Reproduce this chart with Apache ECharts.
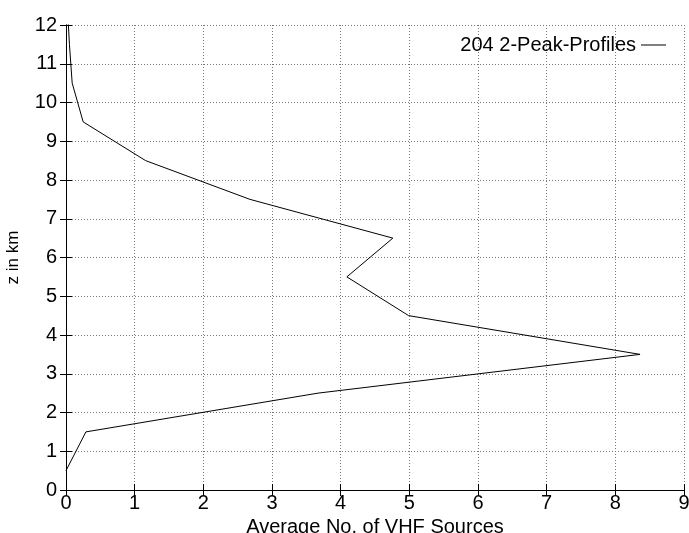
<!DOCTYPE html>
<html lang="en">
<head>
<meta charset="UTF-8">
<title>VHF sources vs height</title>
<script src="https://cdn.jsdelivr.net/npm/echarts@6/dist/echarts.min.js"></script>
<style>
  html, body { margin: 0; padding: 0; background: #fff; }
  #main { width: 689px; height: 533px; }
</style>
</head>
<body>
<div id="main"></div>
<script>
// height (km) and average number of VHF sources
var heights = [0.5, 1.5, 2.5, 3.5, 4.5, 5.5, 6.5, 7.5, 8.5, 9.5, 10.5, 11.5, 12.5];
var sources = [0.0, 0.29, 3.67, 8.36, 4.99, 4.09, 4.76, 2.68, 1.16, 0.25, 0.09, 0.05, 0.02];
var seriesName = '204 2-Peak-Profiles';

var points = [];
for (var i = 0; i < heights.length; i++) {
  points.push([sources[i], heights[i]]);
}

var font = 'Liberation Sans, Arial, sans-serif';
var gridLine = { show: true, lineStyle: { color: '#777', type: [1, 2], width: 1 } };

var myChart = echarts.init(document.getElementById('main'));
var option = {
  animation: false,
  grid: { left: 66, right: 5, top: 25, bottom: 43, containLabel: false, outerBoundsMode: 'none' },
  legend: {
    right: 18, top: 30,
    align: 'right',
    icon: 'rect', itemWidth: 25, itemHeight: 1, itemGap: 8,
    textStyle: { fontFamily: font, fontSize: 20, color: '#000' },
    data: [seriesName]
  },
  xAxis: [{
    type: 'value', min: 0, max: 9, interval: 1,
    name: 'Average No. of VHF Sources', nameLocation: 'middle', nameGap: 20,
    nameTextStyle: { fontFamily: font, fontSize: 20, color: '#000' },
    axisLine: { show: true, lineStyle: { color: '#000', width: 1 } },
    axisTick: { show: true, inside: true, length: 6, lineStyle: { color: '#000' } },
    axisLabel: { fontFamily: font, fontSize: 20, color: '#000', margin: 3 },
    splitLine: gridLine
  }, {
    type: 'value', min: 0, max: 9, interval: 1, position: 'top',
    axisLine: { show: true, lineStyle: { color: '#000', width: 1 } },
    axisTick: { show: true, inside: true, length: 6, lineStyle: { color: '#000' } },
    axisLabel: { show: false }, splitLine: { show: false }
  }],
  yAxis: [{
    type: 'value', min: 0, max: 12, interval: 1,
    name: 'z in km', nameLocation: 'middle', nameGap: 44,
    nameTextStyle: { fontFamily: font, fontSize: 17, color: '#000' },
    axisLine: { show: true, lineStyle: { color: '#000', width: 1 } },
    axisTick: { show: true, inside: true, length: 6, lineStyle: { color: '#000' } },
    axisLabel: { fontFamily: font, fontSize: 20, color: '#000', margin: 9 },
    splitLine: gridLine
  }, {
    type: 'value', min: 0, max: 12, interval: 1, position: 'right',
    axisLine: { show: true, lineStyle: { color: '#000', width: 1 } },
    axisTick: { show: true, inside: true, length: 6, lineStyle: { color: '#000' } },
    axisLabel: { show: false }, splitLine: { show: false }
  }],
  series: [{
    name: seriesName,
    type: 'line',
    data: points,
    symbol: 'none',
    clip: true,
    color: '#000',
    lineStyle: { color: '#000', width: 1 }
  }]
};
myChart.setOption(option);
</script>
</body>
</html>
